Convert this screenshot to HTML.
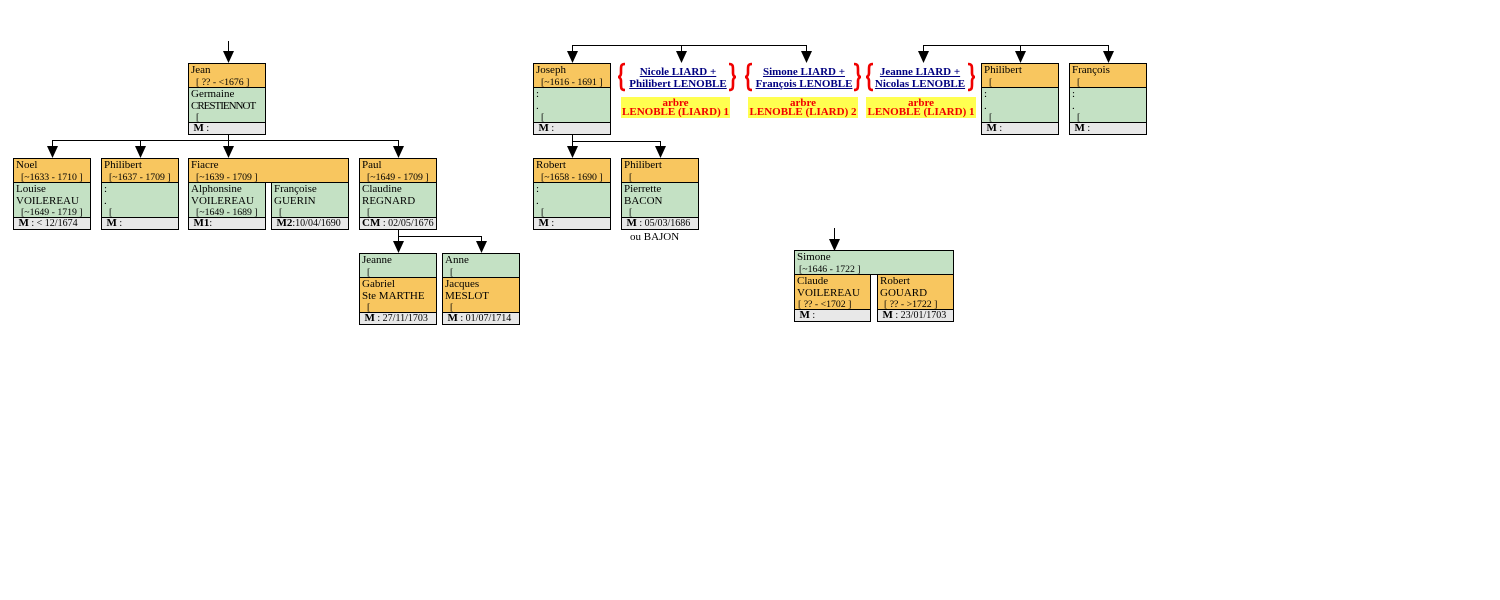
<!DOCTYPE html>
<html><head><meta charset="utf-8">
<style>
body{margin:0;width:1500px;height:600px;background:#fff;position:relative;overflow:hidden;font-family:"Liberation Serif",serif;font-size:11px;color:#000;}
.b{position:absolute;border:1px solid #000;box-sizing:border-box;width:78px;height:72px;}
.s2{height:22px;padding-top:1px;line-height:11.5px;padding-left:2px;overflow:hidden;white-space:nowrap;}
.s3{height:33px;padding-top:1px;line-height:11.5px;padding-left:2px;overflow:hidden;white-space:nowrap;}
.s1{height:11px;line-height:11px;padding-left:2px;overflow:hidden;white-space:nowrap;font-size:10px;}
.s1 b{font-size:11px;}
.t{border-top:1px solid #000;}
.o{background:#F8C65F;}
.g{background:#C4E1C4;}
.y{background:#E8E8E8;}
.d{display:inline-block;padding-left:5px;font-size:9.8px;}
.lk{position:absolute;width:140px;text-align:center;font-weight:bold;font-size:11px;line-height:11.7px;color:#000080;top:67px;white-space:nowrap;}
.lk span{text-decoration:underline;}
.yb{position:absolute;top:97px;height:19px;padding-top:2px;background:#FFFF50;color:#F00000;font-weight:bold;font-size:11px;line-height:9.3px;text-align:center;white-space:nowrap;}
</style></head><body>
<svg width="1500" height="600" style="position:absolute;left:0;top:0">
<path shape-rendering="crispEdges" d="M228.5 41V51 M228.5 134V146 M52 140.5H399 M52.5 140V146 M140.5 140V146 M398.5 140V146
M398.5 229V241 M398 236.5H482 M481.5 236V241
M572.5 45V51 M572 45.5H807 M681.5 45V51 M806.5 45V51
M923.5 45V51 M923 45.5H1109 M1020.5 45V51 M1108.5 45V51
M572.5 134V146 M572 141.5H661 M660.5 141V146
M834.5 228V239" stroke="#000" stroke-width="1" fill="none"/>
<g fill="#000">
<polygon points="223,51 234,51 228.5,63"/>
<polygon points="47,146 58,146 52.5,158"/>
<polygon points="135,146 146,146 140.5,158"/>
<polygon points="223,146 234,146 228.5,158"/>
<polygon points="393,146 404,146 398.5,158"/>
<polygon points="393,241 404,241 398.5,253"/>
<polygon points="476,241 487,241 481.5,253"/>
<polygon points="567,51 578,51 572.5,63"/>
<polygon points="676,51 687,51 681.5,63"/>
<polygon points="801,51 812,51 806.5,63"/>
<polygon points="918,51 929,51 923.5,63"/>
<polygon points="1015,51 1026,51 1020.5,63"/>
<polygon points="1103,51 1114,51 1108.5,63"/>
<polygon points="567,146 578,146 572.5,158"/>
<polygon points="655,146 666,146 660.5,158"/>
<polygon points="829,239 840,239 834.5,251"/>
</g>
<g stroke="#F00000" stroke-width="2.6" fill="none">
<path d="M625,64 C621,64 621,66 621,70 L621,73 C621,76 619,77 618,77 C619,77 621,78 621,81 L621,84 C621,88 621,90 625,90"/>
<path d="M729,64 C733,64 733,66 733,70 L733,73 C733,76 735,77 736,77 C735,77 733,78 733,81 L733,84 C733,88 733,90 729,90"/>
<path d="M752,64 C748,64 748,66 748,70 L748,73 C748,76 746,77 745,77 C746,77 748,78 748,81 L748,84 C748,88 748,90 752,90"/>
<path d="M854,64 C858,64 858,66 858,70 L858,73 C858,76 860,77 861,77 C860,77 858,78 858,81 L858,84 C858,88 858,90 854,90"/>
<path d="M873,64 C869,64 869,66 869,70 L869,73 C869,76 867,77 866,77 C867,77 869,78 869,81 L869,84 C869,88 869,90 873,90"/>
<path d="M968,64 C972,64 972,66 972,70 L972,73 C972,76 974,77 975,77 C974,77 972,78 972,81 L972,84 C972,88 972,90 968,90"/>
</g>
</svg>

<!-- Jean -->
<div class="b" style="left:188px;top:63px">
<div class="o s2">Jean<br><span class="d">[ ?? - &lt;1676 ]</span></div>
<div class="g s3 t">Germaine<br><span style="letter-spacing:-1px">CRESTIENNOT</span><br><span class="d">[</span></div>
<div class="y s1 t">&nbsp;<b>M</b> :</div>
</div>

<!-- Noel -->
<div class="b" style="left:13px;top:158px">
<div class="o s2">Noel<br><span class="d">[~1633 - 1710 ]</span></div>
<div class="g s3 t">Louise<br>VOILEREAU<br><span class="d">[~1649 - 1719 ]</span></div>
<div class="y s1 t">&nbsp;<b>M</b> : &lt; 12/1674</div>
</div>

<!-- Philibert -->
<div class="b" style="left:101px;top:158px">
<div class="o s2">Philibert<br><span class="d">[~1637 - 1709 ]</span></div>
<div class="g s3 t">:<br>.<br><span class="d">[</span></div>
<div class="y s1 t">&nbsp;<b>M</b> :</div>
</div>

<!-- Fiacre -->
<div class="b" style="left:188px;top:158px;width:161px;height:25px">
<div class="o s2">Fiacre<br><span class="d">[~1639 - 1709 ]</span></div>
</div>
<div class="b" style="left:188px;top:182px;height:48px">
<div class="g s3">Alphonsine<br>VOILEREAU<br><span class="d">[~1649 - 1689 ]</span></div>
<div class="y s1 t">&nbsp;<b>M1</b>:</div>
</div>
<div class="b" style="left:271px;top:182px;height:48px">
<div class="g s3">Françoise<br>GUERIN<br><span class="d">[</span></div>
<div class="y s1 t">&nbsp;<b>M2</b>:10/04/1690</div>
</div>

<!-- Paul -->
<div class="b" style="left:359px;top:158px">
<div class="o s2">Paul<br><span class="d">[~1649 - 1709 ]</span></div>
<div class="g s3 t">Claudine<br>REGNARD<br><span class="d">[</span></div>
<div class="y s1 t"><b>CM</b> : 02/05/1676</div>
</div>

<!-- Jeanne -->
<div class="b" style="left:359px;top:253px">
<div class="g s2">Jeanne<br><span class="d">[</span></div>
<div class="o s3 t">Gabriel<br>Ste MARTHE<br><span class="d">[</span></div>
<div class="y s1 t">&nbsp;<b>M</b> : 27/11/1703</div>
</div>

<!-- Anne -->
<div class="b" style="left:442px;top:253px">
<div class="g s2">Anne<br><span class="d">[</span></div>
<div class="o s3 t">Jacques<br>MESLOT<br><span class="d">[</span></div>
<div class="y s1 t">&nbsp;<b>M</b> : 01/07/1714</div>
</div>

<!-- Joseph -->
<div class="b" style="left:533px;top:63px">
<div class="o s2">Joseph<br><span class="d">[~1616 - 1691 ]</span></div>
<div class="g s3 t">:<br>.<br><span class="d">[</span></div>
<div class="y s1 t">&nbsp;<b>M</b> :</div>
</div>

<!-- Robert -->
<div class="b" style="left:533px;top:158px">
<div class="o s2">Robert<br><span class="d">[~1658 - 1690 ]</span></div>
<div class="g s3 t">:<br>.<br><span class="d">[</span></div>
<div class="y s1 t">&nbsp;<b>M</b> :</div>
</div>

<!-- Philibert mid -->
<div class="b" style="left:621px;top:158px">
<div class="o s2">Philibert<br><span class="d">[</span></div>
<div class="g s3 t">Pierrette<br>BACON<br><span class="d">[</span></div>
<div class="y s1 t">&nbsp;<b>M</b> : 05/03/1686</div>
</div>
<div style="position:absolute;left:630px;top:231px;line-height:12px;font-size:11px;white-space:nowrap">ou BAJON</div>

<!-- Philibert right -->
<div class="b" style="left:981px;top:63px">
<div class="o s2">Philibert<br><span class="d">[</span></div>
<div class="g s3 t">:<br>.<br><span class="d">[</span></div>
<div class="y s1 t">&nbsp;<b>M</b> :</div>
</div>

<!-- François -->
<div class="b" style="left:1069px;top:63px">
<div class="o s2">François<br><span class="d">[</span></div>
<div class="g s3 t">:<br>.<br><span class="d">[</span></div>
<div class="y s1 t">&nbsp;<b>M</b> :</div>
</div>

<!-- Simone -->
<div class="b" style="left:794px;top:250px;width:160px;height:25px">
<div class="g s2">Simone<br><span class="d" style="padding-left:2px">[~1646 - 1722 ]</span></div>
</div>
<div class="b" style="left:794px;top:274px;width:77px;height:48px">
<div class="o s3">Claude<br>VOILEREAU<br><span class="d" style="padding-left:1px">[ ?? - &lt;1702 ]</span></div>
<div class="y s1 t">&nbsp;<b>M</b> :</div>
</div>
<div class="b" style="left:877px;top:274px;width:77px;height:48px">
<div class="o s3">Robert<br>GOUARD<br><span class="d" style="padding-left:4px">[ ?? - &gt;1722 ]</span></div>
<div class="y s1 t">&nbsp;<b>M</b> : 23/01/1703</div>
</div>

<!-- Link blocks -->
<div class="lk" style="left:608px"><span>Nicole LIARD +</span><br><span>Philibert LENOBLE</span></div>
<div class="yb" style="left:621px;width:109px">arbre<br>LENOBLE (LIARD) 1</div>

<div class="lk" style="left:734px"><span>Simone LIARD +</span><br><span>François LENOBLE</span></div>
<div class="yb" style="left:748px;width:110px">arbre<br>LENOBLE (LIARD) 2</div>

<div class="lk" style="left:850px"><span>Jeanne LIARD +</span><br><span>Nicolas LENOBLE</span></div>
<div class="yb" style="left:866px;width:110px">arbre<br>LENOBLE (LIARD) 1</div>

</body></html>
